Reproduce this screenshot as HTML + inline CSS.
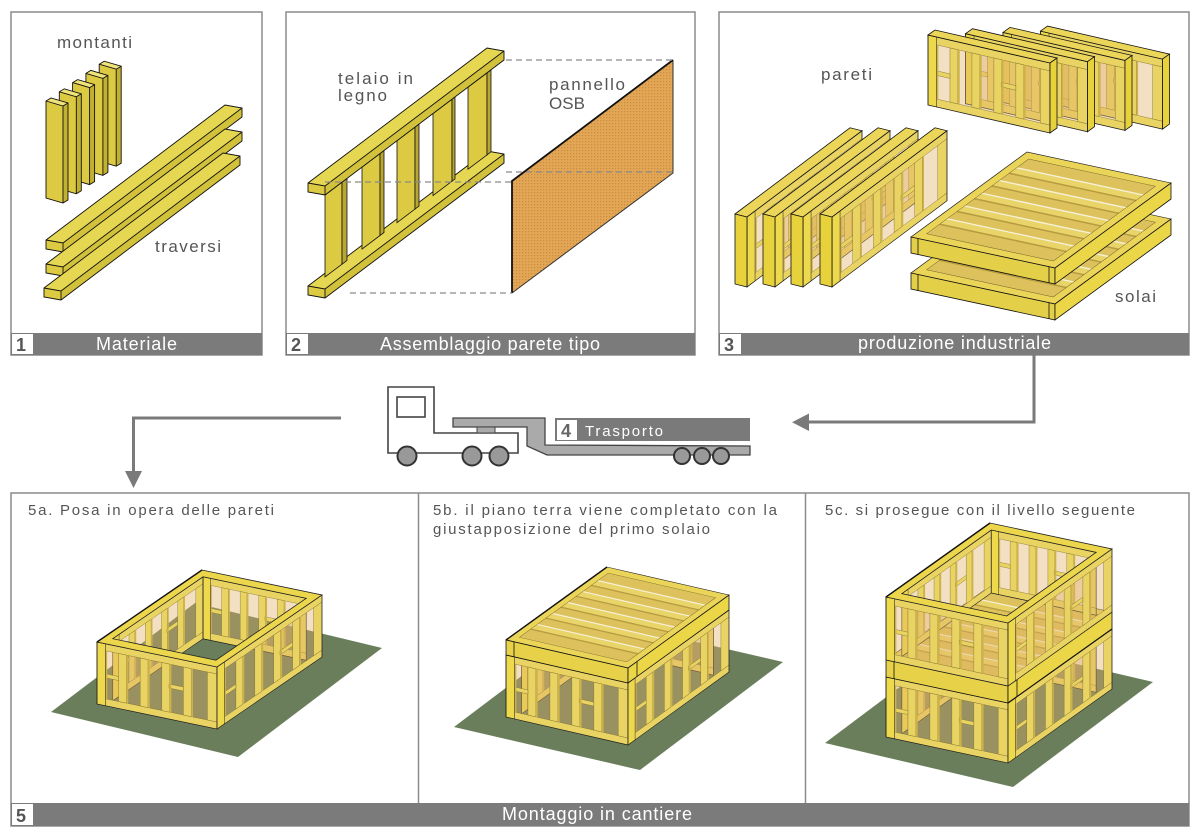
<!DOCTYPE html>
<html><head><meta charset="utf-8">
<style>
html,body{margin:0;padding:0;background:#fff;}
svg{display:block;}
text{font-family:"Liberation Sans",sans-serif;}
</style></head><body>
<svg width="1200" height="835" viewBox="0 0 1200 835" xmlns="http://www.w3.org/2000/svg">
<defs>
<pattern id="osb" width="3" height="3" patternUnits="userSpaceOnUse">
 <rect width="3" height="3" fill="#e2a654"/>
 <rect width="1.2" height="1.2" fill="#c88c42"/>
</pattern>
<g id="mont">
 <polygon points="0,0 17,5 17,102 0,97" fill="#dccb42"/>
 <polygon points="17,5 22,2 22,99 17,102" fill="#c2b030"/>
 <polygon points="0,0 5,-3 22,2 17,5" fill="#efe37a"/>
 <path d="M0,0 L5,-3 L22,2 L22,99 L17,102 L0,97 Z M0,0 L17,5 L22,2 M17,5 L17,102" fill="none" stroke="#111" stroke-width="0.9"/>
</g>
<g id="trav">
 <polygon points="0,0 179,-135 196,-132 17,3" fill="#e6d752"/>
 <polygon points="17,3 196,-132 196,-123 17,12" fill="#d2c13a"/>
 <polygon points="0,0 17,3 17,12 0,9" fill="#dccb42"/>
 <path d="M0,0 L179,-135 L196,-132 L196,-123 L17,12 L0,9 Z M0,0 L17,3 L196,-132 M17,3 L17,12" fill="none" stroke="#111" stroke-width="0.9"/>
</g>
<g id="wf">
 <rect width="100" height="62" fill="#e2b169" fill-opacity="0.4"/>
 <g fill="#e9d463" stroke="#7d6d2c" stroke-width="0.35">
  <rect x="0" y="0" width="100" height="7"/>
  <rect x="0" y="55" width="100" height="7"/>
  <rect x="18" y="7" width="6.5" height="48"/>
  <rect x="36" y="7" width="6.5" height="48"/>
  <rect x="54" y="7" width="6.5" height="48"/>
  <rect x="72" y="7" width="6.5" height="48"/>
  <rect x="92" y="7" width="8" height="48"/>
  <rect x="7" y="30" width="11" height="4"/>
  <rect x="60" y="27" width="12" height="4"/>
 </g>
 <g fill="#cdb24a">
  <rect x="24.5" y="7" width="1.5" height="48"/>
  <rect x="42.5" y="7" width="1.5" height="48"/>
  <rect x="60.5" y="7" width="1.5" height="48"/>
  <rect x="78.5" y="7" width="1.5" height="48"/>
  <rect x="7" y="7" width="1.5" height="48"/>
 </g>
 <rect x="0" y="0" width="7" height="62" fill="#eed94c" stroke="#333" stroke-width="0.5"/>
 <rect width="100" height="62" fill="none" stroke="#222" stroke-width="0.7"/>
</g>
<g id="st">
 <rect width="100" height="100" fill="#dcc15c"/>
 <path d="M0,0H100V100H0Z M6,6H94V94H6Z" fill="#ebd559" fill-rule="evenodd"/>
 <g>
  <rect x="6" y="16.5" width="88" height="1.5" fill="#b89c40"/><rect x="6" y="18" width="88" height="5" fill="#e9d46a"/><rect x="6" y="23" width="88" height="1.3" fill="#f7f1d6"/>
  <rect x="6" y="31.5" width="88" height="1.5" fill="#b89c40"/><rect x="6" y="33" width="88" height="5" fill="#e9d46a"/><rect x="6" y="38" width="88" height="1.3" fill="#f7f1d6"/>
  <rect x="6" y="46.5" width="88" height="1.5" fill="#b89c40"/><rect x="6" y="48" width="88" height="5" fill="#e9d46a"/><rect x="6" y="53" width="88" height="1.3" fill="#f7f1d6"/>
  <rect x="6" y="61.5" width="88" height="1.5" fill="#b89c40"/><rect x="6" y="63" width="88" height="5" fill="#e9d46a"/><rect x="6" y="68" width="88" height="1.3" fill="#f7f1d6"/>
  <rect x="6" y="76.5" width="88" height="1.5" fill="#b89c40"/><rect x="6" y="78" width="88" height="5" fill="#e9d46a"/><rect x="6" y="83" width="88" height="1.3" fill="#f7f1d6"/>
 </g>
 <rect x="6" y="6" width="88" height="88" fill="none" stroke="#6a5a28" stroke-width="0.4"/>
 <rect width="100" height="100" fill="none" stroke="#222" stroke-width="0.6"/>
</g>
</defs>

<!-- PANEL FRAMES -->
<g fill="#fff" stroke="#8c8c8c" stroke-width="1.5">
 <rect x="11" y="12" width="251" height="343"/>
 <rect x="286" y="12" width="409" height="343"/>
 <rect x="719" y="12" width="470" height="343"/>
 <rect x="11" y="493" width="1178" height="333"/>
</g>
<line x1="418.5" y1="493" x2="418.5" y2="803" stroke="#8c8c8c" stroke-width="1.5"/>
<line x1="805.5" y1="493" x2="805.5" y2="803" stroke="#8c8c8c" stroke-width="1.5"/>

<!-- footers -->
<g fill="#7b7b7b">
 <rect x="11" y="333" width="251" height="22"/>
 <rect x="286" y="333" width="409" height="22"/>
 <rect x="719" y="333" width="470" height="22"/>
 <rect x="11" y="803" width="1178" height="23"/>
</g>
<g fill="#fff">
 <rect x="12" y="334" width="21" height="20"/>
 <rect x="287" y="334" width="21" height="20"/>
 <rect x="720" y="334" width="21" height="20"/>
 <rect x="12" y="804" width="21" height="21"/>
</g>
<g font-size="18" font-weight="bold" fill="#555">
 <text x="16" y="351">1</text>
 <text x="291" y="351">2</text>
 <text x="724" y="351">3</text>
 <text x="16" y="822">5</text>
</g>
<g font-size="18" fill="#fff">
 <text x="96" y="350" textLength="81" lengthAdjust="spacing">Materiale</text>
 <text x="380" y="350" textLength="220" lengthAdjust="spacing">Assemblaggio parete tipo</text>
 <text x="858" y="349" textLength="193" lengthAdjust="spacing">produzione industriale</text>
 <text x="502" y="820" textLength="190" lengthAdjust="spacing">Montaggio in cantiere</text>
</g>

<!-- labels -->
<g font-size="17" fill="#555">
 <text x="57" y="48" textLength="75" lengthAdjust="spacing">montanti</text>
 <text x="155" y="252" textLength="66" lengthAdjust="spacing">traversi</text>
 <text x="338" y="84" textLength="75" lengthAdjust="spacing">telaio in</text>
 <text x="338" y="101" textLength="49" lengthAdjust="spacing">legno</text>
 <text x="549" y="90" textLength="76" lengthAdjust="spacing">pannello</text>
 <text x="549" y="109" textLength="36" lengthAdjust="spacing">OSB</text>
 <text x="821" y="80" textLength="51" lengthAdjust="spacing">pareti</text>
 <text x="1115" y="302" textLength="41" lengthAdjust="spacing">solai</text>
</g>
<g font-size="15" fill="#555">
 <text x="28" y="515" textLength="246" lengthAdjust="spacing">5a. Posa in opera delle pareti</text>
 <text x="433" y="515" textLength="344" lengthAdjust="spacing">5b. il piano terra viene completato con la</text>
 <text x="433" y="534" textLength="277" lengthAdjust="spacing">giustapposizione del primo solaio</text>
 <text x="825" y="515" textLength="310" lengthAdjust="spacing">5c. si prosegue con il livello seguente</text>
</g>

<!-- PANEL 1 -->
<use href="#mont" transform="translate(99.2,64.2)"/>
<use href="#mont" transform="translate(85.9,73.4)"/>
<use href="#mont" transform="translate(72.6,82.6)"/>
<use href="#mont" transform="translate(59.3,91.8)"/>
<use href="#mont" transform="translate(46,101)"/>
<use href="#trav" transform="translate(46,240)"/>
<use href="#trav" transform="translate(46,264)"/>
<use href="#trav" transform="translate(44,288)"/>

<!-- PANEL 2 -->
<use href="#trav" transform="translate(308,286)"/>
<g stroke="#111" stroke-width="0.8">
 <polygon points="325,195 342,182.2 342,264.2 325,277" fill="#dccb42"/>
 <polygon points="342,182.2 347,178.4 347,260.4 342,264.2" fill="#b8a630"/>
 <polygon points="362,167.1 380,153.5 380,235.5 362,249.1" fill="#dccb42"/>
 <polygon points="380,153.5 384,150.5 384,232.5 380,235.5" fill="#b8a630"/>
 <polygon points="397,140.7 415,127.1 415,209.1 397,222.7" fill="#dccb42"/>
 <polygon points="415,127.1 419,124.1 419,206.1 415,209.1" fill="#b8a630"/>
 <polygon points="433,113.6 452,99.2 452,181.2 433,195.6" fill="#dccb42"/>
 <polygon points="452,99.2 455,96.9 455,178.9 452,181.2" fill="#b8a630"/>
 <polygon points="468,87.2 487,72.9 487,154.9 468,169.2" fill="#dccb42"/>
 <polygon points="487,72.9 491,69.8 491,151.8 487,154.9" fill="#b8a630"/>
</g>
<use href="#trav" transform="translate(308,183)"/>
<polygon points="512,181 673,60 673,173 512,293" fill="url(#osb)"/>
<path d="M673,60 L673,173 L512,293" fill="none" stroke="#333" stroke-width="1"/>
<path d="M512,293 L512,181 L673,60" fill="none" stroke="#111" stroke-width="1.8"/>
<g stroke="#8a8a8a" stroke-width="1.3" stroke-dasharray="6,4">
 <line x1="506" y1="60" x2="672" y2="60"/>
 <line x1="506" y1="172" x2="672" y2="172"/>
 <line x1="325" y1="182" x2="512" y2="182"/>
 <line x1="350" y1="293" x2="512" y2="293"/>
</g>

<!-- PANEL 3 upper-right walls -->
<g stroke="#111" stroke-width="0.8">
 <use href="#wf" transform="matrix(1.22,0.28,0,1.129,1040.5,31.1)" stroke="none"/>
 <polygon points="1040.5,31.1 1047.5,26.1 1169.5,54.1 1162.5,59.1" fill="#ecd65a"/>
 <polygon points="1162.5,59.1 1169.5,54.1 1169.5,124.1 1162.5,129.1" fill="#e8d23c"/>
 <use href="#wf" transform="matrix(1.22,0.28,0,1.129,1003,32.4)" stroke="none"/>
 <polygon points="1003,32.4 1010,27.4 1132,55.4 1125,60.4" fill="#ecd65a"/>
 <polygon points="1125,60.4 1132,55.4 1132,125.4 1125,130.4" fill="#e8d23c"/>
 <use href="#wf" transform="matrix(1.22,0.28,0,1.129,965.5,33.7)" stroke="none"/>
 <polygon points="965.5,33.7 972.5,28.7 1094.5,56.7 1087.5,61.7" fill="#ecd65a"/>
 <polygon points="1087.5,61.7 1094.5,56.7 1094.5,126.7 1087.5,131.7" fill="#e8d23c"/>
 <use href="#wf" transform="matrix(1.22,0.28,0,1.129,928,35)" stroke="none"/>
 <polygon points="928,35 935,30 1057,58 1050,63" fill="#ecd65a"/>
 <polygon points="1050,63 1057,58 1057,128 1050,133" fill="#e8d23c"/>
</g>

<!-- PANEL 3 lower-left walls -->
<g stroke="#111" stroke-width="0.8">
 <use href="#wf" transform="matrix(1.15,-0.8625,0,1.129,747,217)" stroke="none"/>
 <polygon points="735,214 850,127.75 862,130.75 747,217" fill="#ecd65a"/>
 <polygon points="735,214 747,217 747,287 735,284" fill="#e8d23c"/>
 <use href="#wf" transform="matrix(1.15,-0.8625,0,1.129,775,217)" stroke="none"/>
 <polygon points="763,214 878,127.75 890,130.75 775,217" fill="#ecd65a"/>
 <polygon points="763,214 775,217 775,287 763,284" fill="#e8d23c"/>
 <use href="#wf" transform="matrix(1.15,-0.8625,0,1.129,803,217)" stroke="none"/>
 <polygon points="791,214 906,127.75 918,130.75 803,217" fill="#ecd65a"/>
 <polygon points="791,214 803,217 803,287 791,284" fill="#e8d23c"/>
 <use href="#wf" transform="matrix(1.15,-0.8625,0,1.129,832,217)" stroke="none"/>
 <polygon points="820,214 935,127.75 947,130.75 832,217" fill="#ecd65a"/>
 <polygon points="820,214 832,217 832,287 820,284" fill="#e8d23c"/>
</g>

<!-- PANEL 3 slabs -->
<use href="#st" transform="matrix(1.44,0.31,1.16,-0.85,911,273)"/>
<g stroke="#111" stroke-width="0.8">
 <polygon points="911,273 1055,304 1055,320 911,289" fill="#e4cf48"/>
 <polygon points="1055,304 1171,219 1171,235 1055,320" fill="#ead647"/>
 <line x1="918" y1="274.5" x2="918" y2="290.5"/>
 <line x1="1049" y1="302.7" x2="1049" y2="318.7"/>
</g>
<use href="#st" transform="matrix(1.44,0.31,1.16,-0.85,911,237)"/>
<g stroke="#111" stroke-width="0.8">
 <polygon points="911,237 1055,268 1055,284 911,253" fill="#e4cf48"/>
 <polygon points="1055,268 1171,183 1171,199 1055,284" fill="#ead647"/>
 <line x1="918" y1="238.5" x2="918" y2="254.5"/>
 <line x1="1049" y1="266.7" x2="1049" y2="282.7"/>
</g>

<!-- TRUCK -->
<polygon points="388,387 434,387 434,433 518,433 518,453 388,453" fill="#fff" stroke="#444" stroke-width="1.6"/>
<rect x="397" y="397" width="28" height="20" fill="#fff" stroke="#444" stroke-width="1.6"/>
<polygon points="453,418 545,418 545,445 750,446 750,455 547,455 527,446 527,427 453,427" fill="#aaa" stroke="#444" stroke-width="1.3"/>
<rect x="477" y="427" width="18" height="6" fill="#aaa" stroke="#444" stroke-width="1"/>
<rect x="555" y="418" width="195" height="23" fill="#7a7a7a"/>
<rect x="557" y="420" width="20" height="20" fill="#fff"/>
<text x="561" y="437" font-size="18" font-weight="bold" fill="#666">4</text>
<text x="585" y="436" font-size="15" fill="#fff" textLength="78" lengthAdjust="spacing">Trasporto</text>
<g fill="#999" stroke="#333" stroke-width="2">
 <circle cx="407" cy="456" r="9.5"/>
 <circle cx="472" cy="456" r="9.5"/>
 <circle cx="499" cy="456" r="9.5"/>
 <circle cx="682" cy="456" r="8"/>
 <circle cx="702" cy="456" r="8"/>
 <circle cx="721" cy="456" r="8"/>
</g>

<!-- CONNECTORS -->
<polyline points="341,418 133.5,418 133.5,472" fill="none" stroke="#7a7a7a" stroke-width="3"/>
<polygon points="125,471 142,471 133.5,488" fill="#7a7a7a"/>
<polyline points="1034,355 1034,422 808,422" fill="none" stroke="#7a7a7a" stroke-width="3"/>
<polygon points="809,413.5 809,431 792,422.3" fill="#7a7a7a"/>

<!-- SCENE 5a -->
<polygon points="51,712 238,757 382,648 195,603" fill="#6a7e5b"/>
<use href="#wf" transform="matrix(0.903,-0.6192,0,1,112.75,638.71)"/>
<use href="#wf" transform="matrix(1.032,0.215,0,1,203.05,576.79)"/>
<use href="#wf" transform="matrix(1.2,0.25,0,1,97,642)"/>
<use href="#wf" transform="matrix(1.05,-0.72,0,1,217,667)"/>
<path d="M97,642 L217,667 L322,595 L202,570 Z M112.75,638.71 L203.05,576.79 L306.25,598.29 L215.95,660.21 Z" fill="#ecd64c" fill-rule="evenodd" stroke="#222" stroke-width="0.8"/>
<path d="M97,642 L202,570" stroke="#111" stroke-width="1.4" fill="none"/>

<!-- SCENE 5b -->
<polygon points="454,727 640,770 783,662 597,619" fill="#6a7e5b"/>
<use href="#wf" transform="matrix(0.8686,-0.6278,0,1,521.61,651.85)"/>
<use href="#wf" transform="matrix(1.0492,0.2408,0,1,608.47,589.07)"/>
<use href="#wf" transform="matrix(1.22,0.28,0,1,506,655)"/>
<use href="#wf" transform="matrix(1.01,-0.73,0,1,628,683)"/>
<use href="#st" transform="matrix(1.22,0.28,1.01,-0.73,506,640)"/>
<g stroke="#111" stroke-width="0.8">
 <polygon points="506,640 628,668 628,683 506,655" fill="#e6d148"/>
 <polygon points="628,668 729,595 729,610 628,683" fill="#ead647"/>
 <line x1="514" y1="641.8" x2="514" y2="656.8"/>
 <line x1="637" y1="661.5" x2="637" y2="676.5"/>
</g>
<path d="M506,640 L607,567" stroke="#111" stroke-width="1.4" fill="none"/>

<!-- SCENE 5c -->
<polygon points="825,743 1013,787 1153,682 965,638" fill="#6a7e5b"/>
<use href="#wf" transform="matrix(0.8944,-0.6364,0,0.9677,901.82,673.64)"/>
<use href="#wf" transform="matrix(1.0492,0.2236,0,0.9677,991.26,610)"/>
<use href="#wf" transform="matrix(1.22,0.26,0,0.9677,886,677)"/>
<use href="#wf" transform="matrix(1.04,-0.74,0,0.9677,1008,703)"/>
<use href="#st" transform="matrix(1.22,0.26,1.04,-0.74,886,660)"/>
<g stroke="#111" stroke-width="0.8">
 <polygon points="886,660 1008,686 1008,703 886,677" fill="#e6d148"/>
 <polygon points="1008,686 1112,612 1112,629 1008,703" fill="#ead647"/>
 <line x1="894" y1="661.7" x2="894" y2="678.7"/>
 <line x1="1017" y1="679.6" x2="1017" y2="696.6"/>
</g>
<use href="#wf" transform="matrix(0.8944,-0.6364,0,1.016,901.82,593.64)"/>
<use href="#wf" transform="matrix(1.0492,0.2236,0,1.016,991.26,530)"/>
<use href="#wf" transform="matrix(1.22,0.26,0,1.016,886,597)"/>
<use href="#wf" transform="matrix(1.04,-0.74,0,1.016,1008,623)"/>
<path d="M886,597 L1008,623 L1112,549 L990,523 Z M901.82,593.64 L991.26,530 L1096.18,552.36 L1006.74,616 Z" fill="#ecd64c" fill-rule="evenodd" stroke="#222" stroke-width="0.8"/>
<path d="M886,597 L990,523" stroke="#111" stroke-width="1.4" fill="none"/>
<path d="M1008,703 L1112,629" stroke="#111" stroke-width="1.2" fill="none"/>
</svg>
</body></html>
